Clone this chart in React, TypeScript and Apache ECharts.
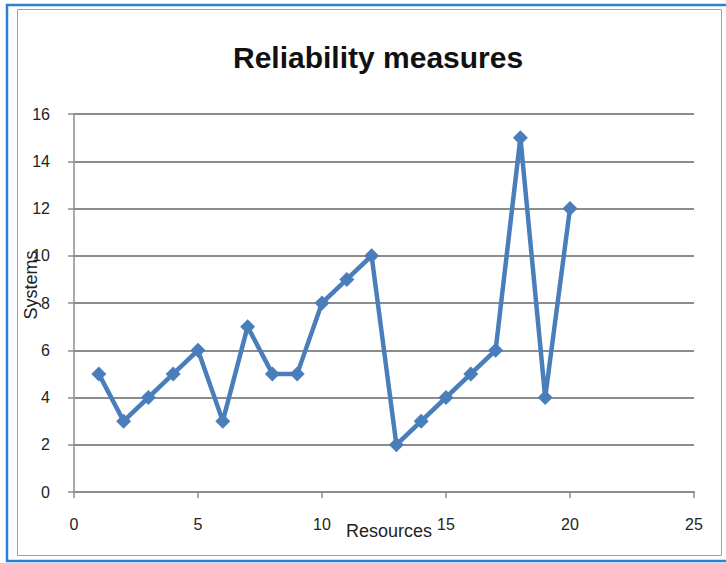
import React, { useEffect, useRef } from "react";
import * as echarts from "echarts";

const resources = [1, 2, 3, 4, 5, 6, 7, 8, 9, 10, 11, 12, 13, 14, 15, 16, 17, 18, 19, 20];
const systems = [5, 3, 4, 5, 6, 3, 7, 5, 5, 8, 9, 10, 2, 3, 4, 5, 6, 15, 4, 12];
const titleText = "Reliability measures";
const xName = "Resources";
const yName = "Systems";

const FONT = "'Liberation Sans Narrow', 'Liberation Sans', sans-serif";

export default function App() {
  const ref = useRef<HTMLDivElement>(null);
  useEffect(() => {
    if (!ref.current) return;
    const chart = echarts.init(ref.current, null, { renderer: "svg" });
    chart.setOption({
      animation: false,
      backgroundColor: "#ffffff",
      title: {
        text: titleText,
        left: 228,
        top: 37,
        textStyle: { fontFamily: FONT, fontSize: 30, fontWeight: "bold", color: "#111" },
      },
      graphic: [
        {
          type: "rect",
          silent: true,
          shape: { x: 7, y: 5, width: 730, height: 556 },
          style: { fill: "none", stroke: "#2f7fd1", lineWidth: 2.5 },
        },
        {
          type: "rect",
          silent: true,
          shape: { x: 17.5, y: 9.5, width: 704, height: 546 },
          style: { fill: "none", stroke: "#a0a0a0", lineWidth: 1 },
        },
        {
          type: "text",
          x: 31,
          y: 285,
          rotation: Math.PI / 2,
          style: {
            text: yName,
            fontFamily: FONT,
            fontSize: 18,
            fill: "#222",
            align: "center",
            verticalAlign: "middle",
          },
        },
        {
          type: "text",
          x: 389,
          y: 531,
          style: {
            text: xName,
            fontFamily: FONT,
            fontSize: 18,
            fill: "#222",
            align: "center",
            verticalAlign: "middle",
          },
        },
      ],
      grid: { left: 74, right: 32, top: 114, bottom: 71 },
      xAxis: {
        type: "value",
        min: 0,
        max: 25,
        interval: 5,
        axisLine: { show: true, lineStyle: { color: "#8c8c8c", width: 2 } },
        axisTick: { show: true, inside: false, length: 6, lineStyle: { color: "#8c8c8c", width: 1.5 } },
        axisLabel: { margin: 24, fontFamily: FONT, fontSize: 16, color: "#222" },
        splitLine: { show: false },
      },
      yAxis: {
        type: "value",
        min: 0,
        max: 16,
        interval: 2,
        axisLine: { show: true, lineStyle: { color: "#8c8c8c", width: 1.5 } },
        axisTick: { show: true, inside: false, length: 6, lineStyle: { color: "#8c8c8c", width: 1.5 } },
        axisLabel: { margin: 24, fontFamily: FONT, fontSize: 16, color: "#222" },
        splitLine: { show: true, lineStyle: { color: "#8c8c8c", width: 2 } },
      },
      series: [
        {
          type: "line",
          data: resources.map((r, i) => [r, systems[i]]),
          symbol: "diamond",
          symbolSize: 15,
          lineStyle: { color: "#4a7ebb", width: 4.5 },
          itemStyle: { color: "#4a7ebb" },
        },
      ],
    });
    return () => chart.dispose();
  }, []);
  return (
    <div
      ref={ref}
      style={{ position: "fixed", left: 0, top: 0, width: 726, height: 563, background: "#fff" }}
    />
  );
}
